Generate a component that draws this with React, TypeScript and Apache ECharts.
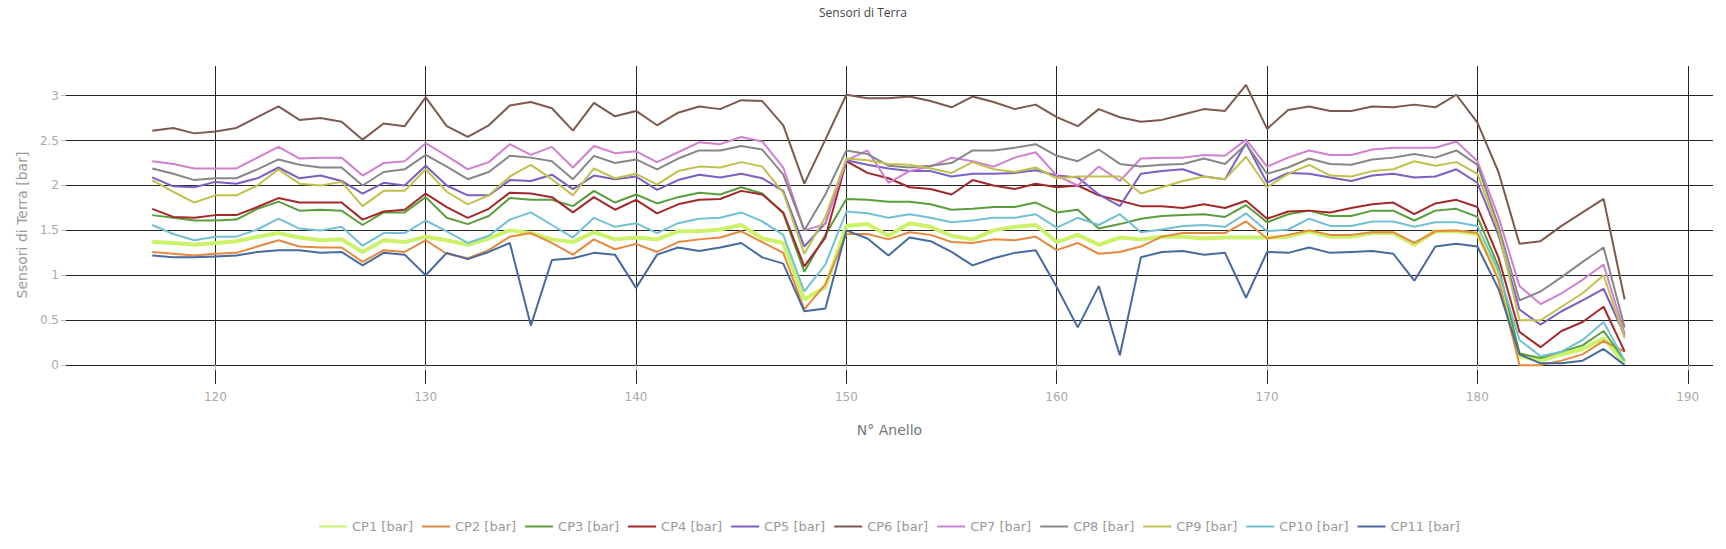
import React, { useEffect, useRef } from "react";
import * as echarts from "echarts";

const anelli = [
  117, 118, 119, 120, 121, 122, 123, 124, 125, 126, 127, 128, 129, 130, 131, 132, 133, 134, 135, 136,
  137, 138, 139, 140, 141, 142, 143, 144, 145, 146, 147, 148, 149, 150, 151, 152, 153, 154, 155, 156,
  157, 158, 159, 160, 161, 162, 163, 164, 165, 166, 167, 168, 169, 170, 171, 172, 173, 174, 175, 176,
  177, 178, 179, 180, 181, 182, 183, 184, 185, 186, 187,
];

const cp1 = [
  1.37, 1.36, 1.34, 1.36, 1.38, 1.43, 1.47, 1.42, 1.39, 1.4, 1.26, 1.39, 1.37, 1.43, 1.39, 1.34, 1.41, 1.5, 1.47, 1.4,
  1.37, 1.48, 1.4, 1.42, 1.4, 1.49, 1.49, 1.51, 1.56, 1.41, 1.36, 0.73, 0.87, 1.55, 1.57, 1.44, 1.58, 1.54, 1.44, 1.4,
  1.5, 1.54, 1.56, 1.37, 1.45, 1.34, 1.42, 1.4, 1.43, 1.43, 1.41, 1.42, 1.42, 1.42, 1.43, 1.49, 1.43, 1.43, 1.47, 1.47,
  1.34, 1.49, 1.49, 1.46, 1.0, 0.1, 0.05, 0.12, 0.18, 0.3, 0.02,
];
const cp2 = [
  1.26, 1.24, 1.22, 1.24, 1.25, 1.32, 1.39, 1.32, 1.31, 1.31, 1.15, 1.28, 1.26, 1.39, 1.24, 1.19, 1.28, 1.43, 1.47, 1.36,
  1.23, 1.4, 1.29, 1.35, 1.26, 1.37, 1.4, 1.42, 1.49, 1.37, 1.25, 0.62, 0.9, 1.46, 1.46, 1.4, 1.48, 1.45, 1.37, 1.36,
  1.4, 1.39, 1.43, 1.28, 1.36, 1.24, 1.26, 1.32, 1.43, 1.47, 1.47, 1.47, 1.6, 1.41, 1.45, 1.5, 1.45, 1.45, 1.48, 1.48,
  1.36, 1.49, 1.5, 1.47, 0.95, 0.0, 0.0, 0.05, 0.12, 0.27, 0.15,
];
const cp3 = [
  1.67, 1.64, 1.61, 1.61, 1.62, 1.74, 1.82, 1.72, 1.73, 1.72, 1.56, 1.7, 1.7, 1.87, 1.64, 1.57, 1.66, 1.86, 1.84, 1.84,
  1.77, 1.94, 1.81, 1.9, 1.8, 1.87, 1.92, 1.9, 1.98, 1.91, 1.69, 1.04, 1.45, 1.85, 1.84, 1.82, 1.82, 1.79, 1.73, 1.74,
  1.76, 1.76, 1.81, 1.7, 1.73, 1.52, 1.57, 1.63, 1.66, 1.67, 1.68, 1.65, 1.78, 1.59, 1.68, 1.72, 1.66, 1.66, 1.72, 1.72,
  1.61, 1.72, 1.74, 1.65, 1.1, 0.13, 0.08, 0.15, 0.22, 0.38, 0.05,
];
const cp4 = [
  1.74, 1.65, 1.64, 1.67, 1.67, 1.76, 1.86, 1.81, 1.81, 1.81, 1.62, 1.71, 1.73, 1.91, 1.76, 1.64, 1.74, 1.92, 1.91, 1.87,
  1.7, 1.87, 1.73, 1.84, 1.69, 1.79, 1.84, 1.85, 1.94, 1.9, 1.7, 1.1, 1.42, 2.27, 2.14, 2.08, 1.98, 1.96, 1.9, 2.06,
  2.0, 1.96, 2.02, 1.98, 2.0, 1.89, 1.83, 1.77, 1.77, 1.75, 1.79, 1.75, 1.83, 1.63, 1.71, 1.72, 1.7, 1.75, 1.79, 1.81,
  1.68, 1.8, 1.84, 1.76, 1.2, 0.37, 0.2, 0.38, 0.48, 0.65, 0.15,
];
const cp5 = [
  2.09, 1.99, 1.98, 2.04, 2.02, 2.08, 2.2, 2.08, 2.11, 2.05, 1.91, 2.03, 2.0, 2.22, 2.0, 1.89, 1.89, 2.06, 2.05, 2.12,
  1.96, 2.11, 2.07, 2.1, 1.95, 2.06, 2.12, 2.09, 2.13, 2.08, 1.94, 1.32, 1.58, 2.28, 2.23, 2.19, 2.16, 2.16, 2.1, 2.13,
  2.13, 2.14, 2.17, 2.11, 2.09, 1.9, 1.77, 2.13, 2.16, 2.18, 2.1, 2.07, 2.47, 2.03, 2.14, 2.13, 2.09, 2.05, 2.11, 2.13,
  2.09, 2.1, 2.18, 2.03, 1.45, 0.62, 0.45, 0.6, 0.72, 0.85, 0.33,
];
const cp6 = [
  2.61, 2.64, 2.58, 2.6, 2.64, 2.76, 2.88, 2.73, 2.75, 2.71, 2.51, 2.69, 2.66, 2.98, 2.66, 2.54, 2.67, 2.89, 2.93, 2.86,
  2.61, 2.92, 2.77, 2.83, 2.67, 2.81, 2.88, 2.85, 2.95, 2.94, 2.67, 2.02, 2.51, 3.01, 2.97, 2.97, 2.99, 2.94, 2.87, 2.99,
  2.93, 2.85, 2.9, 2.76, 2.66, 2.85, 2.76, 2.71, 2.73, 2.79, 2.85, 2.83, 3.12, 2.63, 2.84, 2.88, 2.83, 2.83, 2.88, 2.87,
  2.9, 2.87, 3.01, 2.7, 2.15, 1.35, 1.38, 1.55, 1.7, 1.85, 0.73,
];
const cp7 = [
  2.27, 2.24, 2.19, 2.19, 2.19, 2.31, 2.43, 2.3, 2.31, 2.31, 2.11, 2.25, 2.27, 2.47, 2.33, 2.18, 2.26, 2.46, 2.34, 2.43,
  2.2, 2.44, 2.36, 2.38, 2.26, 2.37, 2.48, 2.46, 2.54, 2.49, 2.2, 1.5, 1.57, 2.28, 2.39, 2.03, 2.16, 2.21, 2.31, 2.27,
  2.21, 2.31, 2.37, 2.11, 2.0, 2.21, 2.05, 2.3, 2.31, 2.31, 2.34, 2.33, 2.51, 2.21, 2.31, 2.39, 2.34, 2.34, 2.4, 2.42,
  2.42, 2.42, 2.49, 2.27, 1.65, 0.88, 0.68, 0.8, 0.95, 1.12, 0.35,
];
const cp8 = [
  2.19, 2.13, 2.06, 2.08, 2.08, 2.18, 2.29, 2.23, 2.2, 2.2, 2.0, 2.15, 2.18, 2.34, 2.21, 2.07, 2.15, 2.33, 2.31, 2.27,
  2.07, 2.33, 2.25, 2.29, 2.18, 2.3, 2.39, 2.39, 2.44, 2.4, 2.12, 1.5, 1.9, 2.39, 2.35, 2.22, 2.2, 2.22, 2.25, 2.39,
  2.39, 2.42, 2.46, 2.33, 2.27, 2.4, 2.24, 2.21, 2.23, 2.24, 2.3, 2.24, 2.46, 2.13, 2.2, 2.3, 2.24, 2.23, 2.29, 2.31,
  2.35, 2.31, 2.39, 2.23, 1.55, 0.72, 0.82, 0.98, 1.15, 1.31, 0.42,
];
const cp9 = [
  2.06, 1.93, 1.81, 1.89, 1.89, 2.0, 2.18, 2.02, 2.0, 2.04, 1.77, 1.94, 1.94, 2.18, 1.93, 1.79, 1.89, 2.1, 2.23, 2.07,
  1.89, 2.19, 2.08, 2.13, 2.01, 2.16, 2.21, 2.2, 2.26, 2.21, 1.92, 1.24, 1.65, 2.3, 2.28, 2.24, 2.23, 2.19, 2.14, 2.26,
  2.18, 2.15, 2.2, 2.08, 2.1, 2.1, 2.1, 1.91, 1.98, 2.05, 2.1, 2.07, 2.32, 1.98, 2.13, 2.23, 2.11, 2.1, 2.16, 2.18,
  2.27, 2.22, 2.26, 2.13, 1.5, 0.5, 0.5, 0.65, 0.8, 1.0, 0.3,
];
const cp10 = [
  1.56, 1.46, 1.39, 1.43, 1.43, 1.51, 1.63, 1.52, 1.5, 1.54, 1.33, 1.47, 1.47, 1.61, 1.49, 1.36, 1.44, 1.62, 1.7, 1.56,
  1.42, 1.64, 1.54, 1.58, 1.47, 1.58, 1.63, 1.64, 1.7, 1.6, 1.45, 0.82, 1.12, 1.71, 1.69, 1.64, 1.68, 1.64, 1.59, 1.61,
  1.64, 1.64, 1.68, 1.53, 1.64, 1.56, 1.68, 1.48, 1.51, 1.55, 1.56, 1.54, 1.69, 1.49, 1.51, 1.63, 1.55, 1.55, 1.6, 1.6,
  1.54, 1.59, 1.59, 1.55, 1.05, 0.28, 0.1, 0.15, 0.28, 0.48, 0.05,
];
const cp11 = [
  1.22, 1.2, 1.2, 1.21, 1.22, 1.26, 1.28, 1.28, 1.25, 1.26, 1.11, 1.25, 1.23, 1.0, 1.25, 1.18, 1.26, 1.36, 0.44, 1.17,
  1.19, 1.25, 1.23, 0.86, 1.23, 1.31, 1.27, 1.31, 1.36, 1.2, 1.13, 0.6, 0.63, 1.5, 1.41, 1.22, 1.42, 1.38, 1.26, 1.11,
  1.19, 1.25, 1.28, 0.87, 0.42, 0.88, 0.11, 1.2, 1.26, 1.27, 1.23, 1.25, 0.75, 1.26, 1.25, 1.31, 1.25, 1.26, 1.27, 1.24,
  0.94, 1.32, 1.35, 1.32, 0.85, 0.12, 0.02, 0.02, 0.05, 0.18, 0.0,
];

const seriesNames = [
  "CP1 [bar]", "CP2 [bar]", "CP3 [bar]", "CP4 [bar]", "CP5 [bar]", "CP6 [bar]",
  "CP7 [bar]", "CP8 [bar]", "CP9 [bar]", "CP10 [bar]", "CP11 [bar]",
];
const seriesColors = [
  "#ccf26a", "#e6893f", "#5a9e3c", "#a4282b", "#7b5fc2", "#7c5a4e",
  "#d17fd0", "#878787", "#c2c04c", "#72c0d6", "#476a9f",
];

const FONT = "'DejaVu Sans', Verdana, sans-serif";

export default function App() {
  const ref = useRef<HTMLDivElement>(null);
  useEffect(() => {
    if (!ref.current) return;
    const chart = echarts.init(ref.current, null, { renderer: "svg" });
    const all = [cp1, cp2, cp3, cp4, cp5, cp6, cp7, cp8, cp9, cp10, cp11];
    chart.setOption({
      animation: false,
      backgroundColor: "#ffffff",
      textStyle: { fontFamily: FONT },
      title: {
        text: "Sensori di Terra",
        left: "center",
        top: 1,
        textStyle: { fontFamily: "'Open Sans', sans-serif", fontSize: 12, fontWeight: "normal", color: "#444" },
      },
      grid: { left: 66, right: 13, top: 66, bottom: 165, containLabel: false, outerBoundsMode: "none" },
      xAxis: {
        type: "value",
        min: 112.9,
        max: 191.2,
        minInterval: 10,
        maxInterval: 10,
        name: "N° Anello",
        nameLocation: "middle",
        nameGap: 39,
        nameTextStyle: { fontFamily: FONT, fontSize: 14, color: "#777" },
        axisLine: { show: false },
        axisTick: { show: true, length: 5, lineStyle: { color: "#bbb" } },
        axisLabel: { color: "#aaa", fontSize: 12, margin: 7, showMinLabel: false, showMaxLabel: false, fontFamily: FONT },
        splitLine: { show: true, showMinLine: false, showMaxLine: false, lineStyle: { color: "#262626", width: 1 } },
      },
      yAxis: {
        type: "value",
        min: -0.21,
        max: 3.33,
        minInterval: 0.5,
        maxInterval: 0.5,
        name: "Sensori di Terra [bar]",
        nameLocation: "middle",
        nameGap: 37,
        nameTextStyle: { fontFamily: FONT, fontSize: 14, color: "#999" },
        axisLine: { show: false },
        axisTick: { show: true, length: 5, lineStyle: { color: "#bbb" } },
        axisLabel: { color: "#aaa", fontSize: 12, margin: 7, showMinLabel: false, showMaxLabel: false, fontFamily: FONT },
        splitLine: { show: true, showMinLine: false, showMaxLine: false, lineStyle: { color: "#262626", width: 1 } },
      },
      legend: {
        bottom: 11,
        left: 313,
        itemWidth: 28,
        itemHeight: 12,
        itemGap: 8,
        itemStyle: { opacity: 0 },
        textStyle: { color: "#999", fontSize: 13, fontFamily: FONT },
        data: seriesNames,
      },
      series: all.map((arr, i) => ({
        type: "line",
        name: seriesNames[i],
        data: anelli.map((x, j) => [x, arr[j]]),
        symbol: "none",
        color: seriesColors[i],
        lineStyle: { width: i === 0 ? 4 : 2, color: seriesColors[i] },
        itemStyle: { color: seriesColors[i] },
      })),
    });
    return () => chart.dispose();
  }, []);
  return (
    <div
      ref={ref}
      style={{ position: "absolute", left: 0, top: 0, width: 1726, height: 549 }}
    />
  );
}
